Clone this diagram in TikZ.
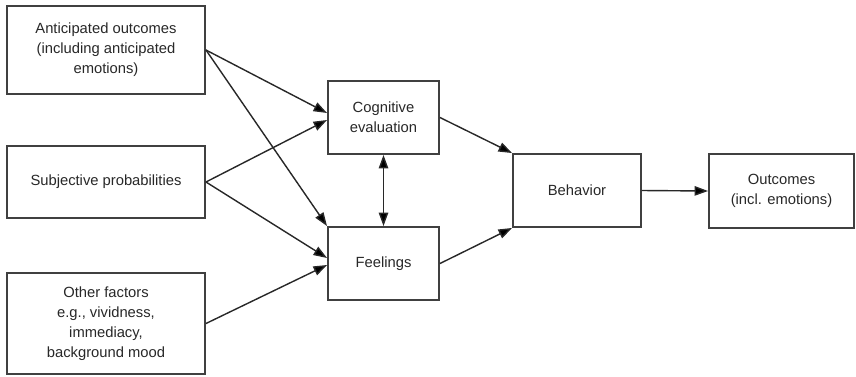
\documentclass[tikz,border=0pt]{standalone}
\usepackage{fontspec}
\setmainfont{Liberation Sans}
\usetikzlibrary{arrows.meta,positioning}
\definecolor{CmLine}{RGB}{64,64,64}
\definecolor{CmText}{RGB}{40,40,40}
\definecolor{CmArrow}{RGB}{40,40,40}
\tikzset{
  cm/box/.style={
    draw=CmLine,
    line width=1.1pt,
    fill=white,
    align=center,
    text=CmText,
    inner sep=0pt,
    font=\fontsize{8.4}{11.4}\selectfont
  },
  cm/arrow/.style={-{Triangle[length=2.7mm,width=1.9mm,fill=black]}, line width=0.8pt, draw=CmArrow},
  cm/twoway/.style={{Triangle[length=2.7mm,width=1.9mm,fill=black]}-{Triangle[length=2.7mm,width=1.9mm,fill=black]}, line width=0.8pt, draw=CmArrow}
}

\begin{document}
\begin{tikzpicture}[x=1cm,y=1cm]
  \useasboundingbox (0,0) rectangle (17.12,7.52);
  % left column
  \node[cm/box,minimum width=3.96cm,minimum height=1.76cm] (ant) at (2.12,6.52)
    {Anticipated outcomes\\(including anticipated\\emotions)};
  \node[cm/box,minimum width=3.96cm,minimum height=1.44cm] (prob) at (2.12,3.88)
    {Subjective probabilities};
  \node[cm/box,minimum width=3.96cm,minimum height=2.02cm] (other) at (2.12,1.05)
    {Other factors\\e.g., vividness,\\immediacy,\\background mood};
  % middle and right
  \node[cm/box,minimum width=2.22cm,minimum height=1.46cm] (cog) at (7.67,5.17)
    {Cognitive\\evaluation};
  \node[cm/box,minimum width=2.22cm,minimum height=1.46cm] (feel) at (7.67,2.25)
    {Feelings};
  \node[cm/box,minimum width=2.56cm,minimum height=1.46cm] (beh) at (11.54,3.71)
    {Behavior};
  \node[cm/box,minimum width=2.9cm,minimum height=1.48cm] (out) at (15.63,3.70)
    {Outcomes\\(incl. emotions)};

  \draw[cm/arrow] (ant.east) -- ([yshift=0.09cm]cog.west);
  \draw[cm/arrow] (ant.east) -- (feel.north west);
  \draw[cm/arrow] (prob.east) -- ([yshift=-0.05cm]cog.west);
  \draw[cm/arrow] (prob.east) -- ([yshift=0.11cm]feel.west);
  \draw[cm/arrow] (other.east) -- ([yshift=-0.03cm]feel.west);
  \draw[cm/twoway] (cog.south) -- (feel.north);
  \draw[cm/arrow] (cog.east) -- (beh.north west);
  \draw[cm/arrow] (feel.east) -- (beh.south west);
  \draw[cm/arrow] (beh.east) -- (out.west);
\end{tikzpicture}
\end{document}
